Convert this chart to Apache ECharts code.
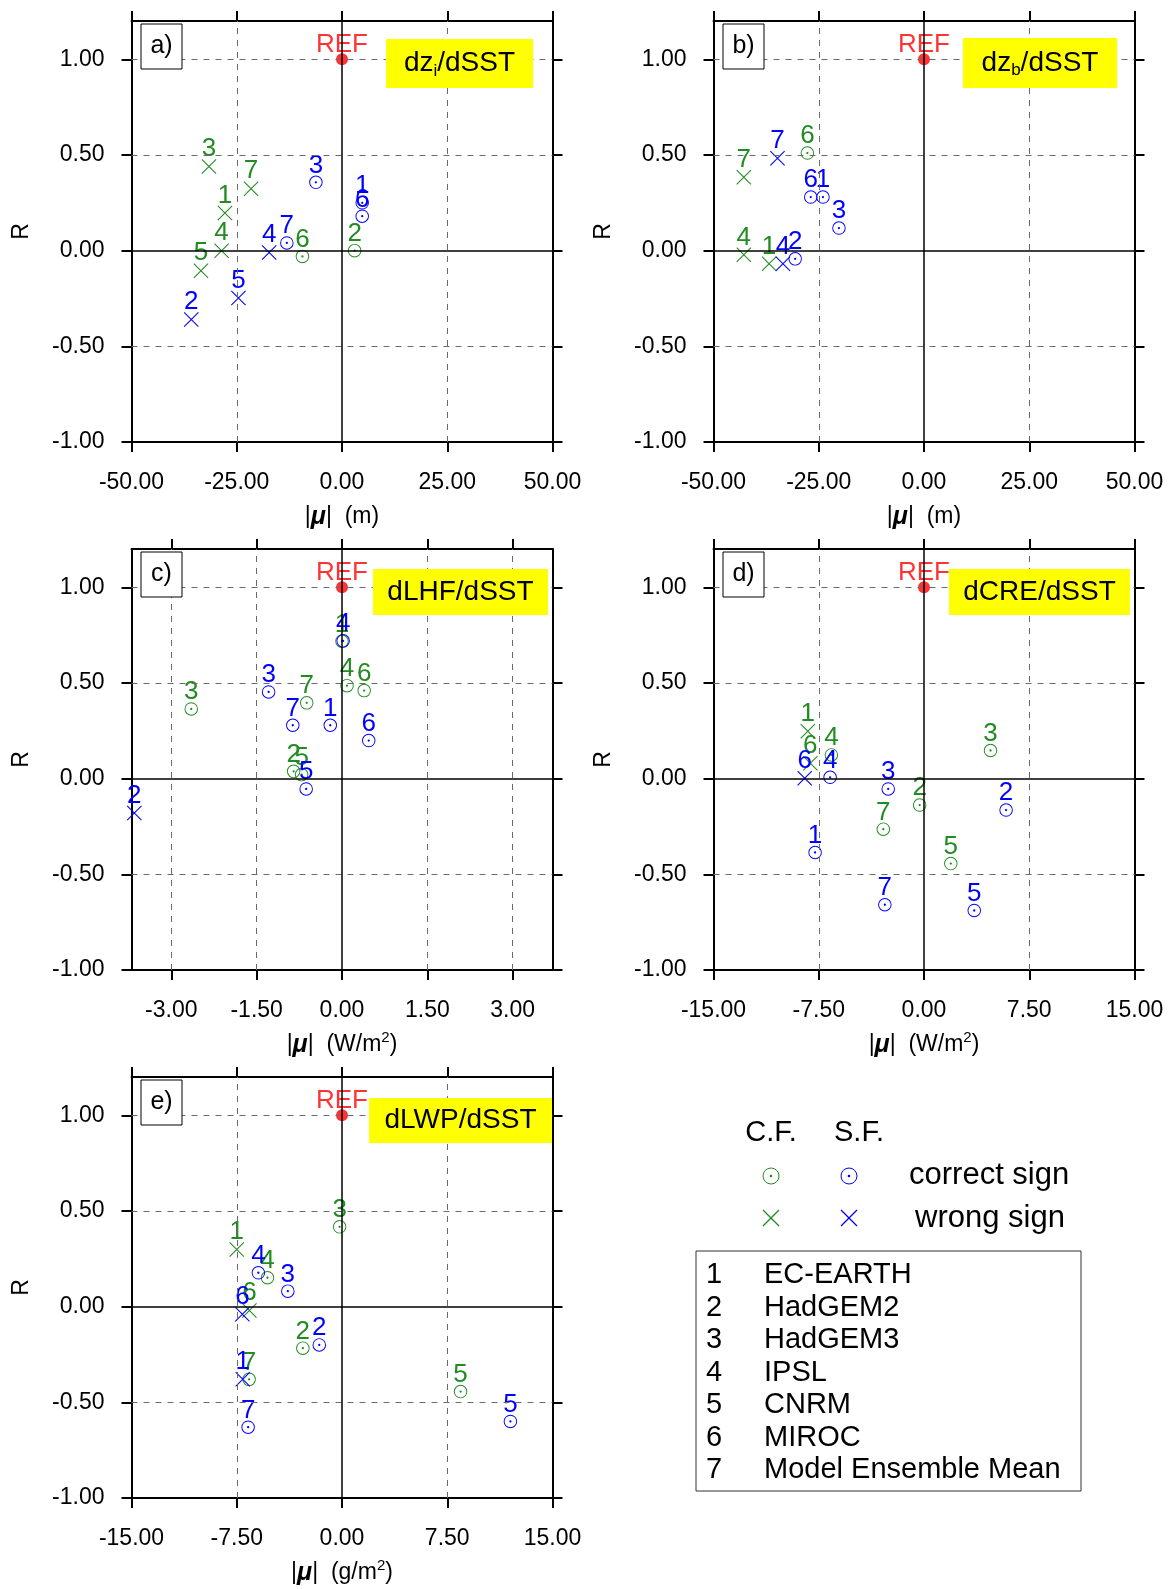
<!DOCTYPE html>
<html><head><meta charset="utf-8">
<script src="https://cdn.jsdelivr.net/npm/echarts@6/dist/echarts.min.js"></script>
<style>html,body{margin:0;padding:0;background:#fff}#c{width:1170px;height:1589px}</style>
</head><body><div id="c"></div>
<script>
// ---------- data ----------
const modelNums = ['1','2','3','4','5','6','7'];
const modelNames = ['EC-EARTH','HadGEM2','HadGEM3','IPSL','CNRM','MIROC','Model Ensemble Mean'];
const yTicks = [-1, -0.5, 0, 0.5, 1];
const yDash = [-0.5, 0.5, 1];
const xTicksAB = [-50, -25, 0, 25, 50];
const xTicksC = [-3, -1.5, 0, 1.5, 3];
const xTicksDE = [-15, -7.5, 0, 7.5, 15];

// panel a) dz_i/dSST   (1 = correct sign, 0 = wrong sign)
const aCfX = [-27.8, 3.0, -31.6, -28.6, -33.5, -9.4, -21.6];
const aCfR = [0.197, 0.0, 0.44, 0.0, -0.105, -0.03, 0.324];
const aCfOk = [0, 1, 0, 0, 0, 1, 0];
const aSfX = [4.8, -35.8, -6.2, -17.3, -24.6, 4.8, -13.1];
const aSfR = [0.25, -0.36, 0.357, -0.01, -0.247, 0.18, 0.04];
const aSfOk = [1, 0, 1, 0, 0, 1, 1];
// panel b) dz_b/dSST
const bCfX = [-36.8, null, null, -42.8, null, -27.7, -42.8];
const bCfR = [-0.069, null, null, -0.022, null, 0.51, 0.384];
const bCfOk = [0, 0, 0, 0, 0, 1, 0];
const bSfX = [-24.0, -30.6, -20.2, -33.5, null, -26.9, -34.8];
const bSfR = [0.28, -0.043, 0.118, -0.069, null, 0.28, 0.483];
const bSfOk = [1, 1, 1, 0, 0, 1, 0];
// panel c) dLHF/dSST
const cCfX = [0.0, -0.85, -2.65, 0.088, -0.71, 0.39, -0.62];
const cCfR = [0.718, 0.038, 0.364, 0.486, 0.021, 0.46, 0.396];
const cCfOk = [1, 1, 1, 1, 1, 1, 1];
const cSfX = [-0.206, -3.65, -1.29, 0.02, -0.63, 0.47, -0.865];
const cSfR = [0.279, -0.18, 0.453, 0.72, -0.054, 0.199, 0.279];
const cSfOk = [1, 0, 1, 1, 1, 1, 1];
// panel d) dCRE/dSST
const dCfX = [-8.28, -0.31, 4.74, -6.6, 1.91, -8.1, -2.9];
const dCfR = [0.247, -0.138, 0.147, 0.124, -0.444, 0.08, -0.264];
const dCfOk = [0, 1, 1, 1, 1, 0, 1];
const dSfX = [-7.76, 5.85, -2.55, -6.69, 3.58, -8.5, -2.79];
const dSfR = [-0.386, -0.164, -0.054, 0.007, -0.689, 0.002, -0.659];
const dSfOk = [1, 1, 1, 1, 1, 0, 1];
// panel e) dLWP/dSST
const eCfX = [-7.5, -2.79, -0.17, -5.31, 8.45, -6.6, -6.62];
const eCfR = [0.299, -0.217, 0.417, 0.151, -0.444, -0.02, -0.38];
const eCfOk = [0, 1, 1, 1, 1, 0, 1];
const eSfX = [-7.07, -1.62, -3.86, -5.96, 12.0, -7.1, -6.69];
const eSfR = [-0.38, -0.2, 0.081, 0.177, -0.6, -0.04, -0.63];
const eSfOk = [0, 1, 1, 1, 1, 0, 1];
const refX = 0, refR = 1;

// ---------- styling / layout ----------
const FONT = '"Liberation Sans", Arial, Helvetica, sans-serif';
const GREEN = '#228B22', BLUE = '#0000FF', RED = '#FF0000';
const RING = 'path://M0,65A65,65 0 1,0 130,65A65,65 0 1,0 0,65Z M9,65A56,56 0 1,1 121,65A56,56 0 1,1 9,65Z M54,65A11,11 0 1,0 76,65A11,11 0 1,0 54,65Z';
const CROSS = 'path://M0,5L5,0L100,95L95,100Z M95,0L100,5L5,100L0,95Z';
const W = 421, H = 421;
const nameM = '|{mu|μ}|  (m)';
const nameW = '|{mu|μ}|  (W/m{sup|2})';
const nameG = '|{mu|μ}|  (g/m{sup|2})';

const panels = [
  {left:131.5, top:21, xMin:-50, xMax:50, ticks:xTicksAB, cf:[aCfX,aCfR,aCfOk], sf:[aSfX,aSfR,aSfOk], xName:nameM, lab:'a)', title:'{m|dz}{s|i}{m|/dSST}', box:[386,39,147,49]},
  {left:713.5, top:21, xMin:-50, xMax:50, ticks:xTicksAB, cf:[bCfX,bCfR,bCfOk], sf:[bSfX,bSfR,bSfOk], xName:nameM, lab:'b)', title:'{m|dz}{s|b}{m|/dSST}', box:[963,38,154,50]},
  {left:131.5, top:549, xMin:-3.7, xMax:3.7, ticks:xTicksC, cf:[cCfX,cCfR,cCfOk], sf:[cSfX,cSfR,cSfOk], xName:nameW, lab:'c)', title:'{m|dLHF/dSST}', box:[373,569,175,46]},
  {left:713.5, top:549, xMin:-15, xMax:15, ticks:xTicksDE, cf:[dCfX,dCfR,dCfOk], sf:[dSfX,dSfR,dSfOk], xName:nameW, lab:'d)', title:'{m|dCRE/dSST}', box:[949,569,181,46]},
  {left:131.5, top:1077, xMin:-15, xMax:15, ticks:xTicksDE, cf:[eCfX,eCfR,eCfOk], sf:[eSfX,eSfR,eSfOk], xName:nameG, lab:'e)', title:'{m|dLWP/dSST}', box:[369,1098,183,45]}
];

const fmt = v => Number(v).toFixed(2);
const grids = [], xAxes = [], yAxes = [], series = [], graphics = [];

function axisCommon(ticks) {
  return {
    axisLine: {show: true, onZero: false, lineStyle: {color: '#000', width: 2}},
    axisTick: {show: true, inside: false, length: 10, customValues: ticks, lineStyle: {color: '#000', width: 2}},
    splitLine: {show: false}
  };
}

function pts(arr, color) {
  const [xs, rs, ok] = arr;
  const out = [];
  for (let k = 0; k < xs.length; k++) {
    if (xs[k] == null || rs[k] == null) continue;
    out.push({name: modelNums[k], value: [xs[k], rs[k]],
      symbol: ok[k] ? RING : CROSS, symbolSize: ok[k] ? 13.5 : 15});
  }
  return {
    type: 'scatter', data: out, z: 3, silent: true,
    itemStyle: {color: color, opacity: 1},
    label: {show: true, position: 'top', distance: -3, formatter: '{b}', color: color,
      fontSize: 26, fontFamily: FONT}
  };
}

panels.forEach((p, i) => {
  grids.push({left: p.left, top: p.top, width: W, height: H, outerBoundsMode: 'none', containLabel: false});
  xAxes.push(Object.assign({
    gridIndex: i, type: 'value', min: p.xMin, max: p.xMax, position: 'bottom',
    axisLabel: {customValues: p.ticks, formatter: fmt, fontSize: 23, color: '#000', margin: 29, fontFamily: FONT},
    name: p.xName, nameLocation: 'middle', nameGap: 60,
    nameTextStyle: {fontSize: 23, color: '#000', fontFamily: FONT, lineHeight: 30,
      rich: {mu: {fontSize: 25, fontWeight: 'bold', fontStyle: 'italic', color: '#000', fontFamily: FONT, lineHeight: 30},
             sup: {fontSize: 15, color: '#000', fontFamily: FONT, lineHeight: 14, verticalAlign: 'top'}}}
  }, axisCommon(p.ticks)));
  xAxes.push(Object.assign({
    gridIndex: i, type: 'value', min: p.xMin, max: p.xMax, position: 'top',
    axisLabel: {show: false}
  }, axisCommon(p.ticks)));
  yAxes.push(Object.assign({
    gridIndex: i, type: 'value', min: -1, max: 1.2, position: 'left',
    axisLabel: {customValues: yTicks, formatter: fmt, fontSize: 23, color: '#000', margin: 27, fontFamily: FONT},
    name: 'R', nameLocation: 'middle', nameGap: 98, nameRotate: 90,
    nameTextStyle: {fontSize: 23, color: '#000', fontFamily: FONT}
  }, axisCommon(yTicks)));
  yAxes.push(Object.assign({
    gridIndex: i, type: 'value', min: -1, max: 1.2, position: 'right',
    axisLabel: {show: false}
  }, axisCommon(yTicks)));

  const xi = 2 * i, yi = 2 * i;
  const dashX = p.ticks.filter(v => v !== 0 && v > p.xMin && v < p.xMax);
  series.push({
    type: 'scatter', xAxisIndex: xi, yAxisIndex: yi, data: [[refX, refR]], symbolSize: 0, silent: true, z: 1,
    markLine: {
      silent: true, symbol: ['none', 'none'], label: {show: false}, animation: false,
      lineStyle: {color: '#6a6a6a', type: [6, 6], width: 1},
      data: [
        ...dashX.map(v => ({xAxis: v})),
        ...yDash.map(v => ({yAxis: v})),
        {xAxis: 0, lineStyle: {type: 'solid', color: '#000', width: 1.5}},
        {yAxis: 0, lineStyle: {type: 'solid', color: '#000', width: 1.5}}
      ]
    }
  });
  series.push(Object.assign(pts(p.cf, GREEN), {xAxisIndex: xi, yAxisIndex: yi}));
  series.push(Object.assign(pts(p.sf, BLUE), {xAxisIndex: xi, yAxisIndex: yi}));
  series.push({
    type: 'scatter', xAxisIndex: xi, yAxisIndex: yi, z: 4, silent: true,
    data: [{name: 'REF', value: [refX, refR]}], symbol: 'circle', symbolSize: 12,
    itemStyle: {color: RED},
    label: {show: true, position: 'top', distance: -5, formatter: '{b}', color: RED, fontSize: 26, fontFamily: FONT}
  });

  // panel letter box
  graphics.push({type: 'rect', shape: {x: p.left + 9.5, y: p.top + 3, width: 41, height: 45},
    style: {fill: '#fff', stroke: '#000', lineWidth: 1}, z: 10});
  graphics.push({type: 'text', x: p.left + 30, y: p.top + 25.5, z: 11,
    style: {text: p.lab, font: '25px ' + FONT, fill: '#000', align: 'center', verticalAlign: 'middle'}});
  // yellow title box
  const b = p.box;
  graphics.push({type: 'rect', shape: {x: b[0], y: b[1], width: b[2], height: b[3]},
    style: {fill: '#FFFF00', stroke: 'none'}, z: 10});
  graphics.push({type: 'text', x: b[0] + b[2] / 2, y: b[1] + b[3] / 2, z: 11,
    style: {text: p.title, align: 'center', verticalAlign: 'middle', fill: '#000',
      rich: {m: {fontSize: 28, fontFamily: FONT, fill: '#000', lineHeight: 32},
             s: {fontSize: 17, fontFamily: FONT, fill: '#000', lineHeight: 21, verticalAlign: 'bottom'}}}});
});

// ---------- legend ----------
const LF = '29px ' + FONT;
graphics.push({type: 'text', x: 771, y: 1133, style: {text: 'C.F.', font: LF, fill: '#000', align: 'center', verticalAlign: 'middle'}});
graphics.push({type: 'text', x: 859, y: 1133, style: {text: 'S.F.', font: LF, fill: '#000', align: 'center', verticalAlign: 'middle'}});
graphics.push({type: 'text', x: 909, y: 1175, style: {text: 'correct sign', font: '31px ' + FONT, fill: '#000', align: 'left', verticalAlign: 'middle'}});
graphics.push({type: 'text', x: 915, y: 1218, style: {text: 'wrong sign', font: '31px ' + FONT, fill: '#000', align: 'left', verticalAlign: 'middle'}});
[[771, GREEN], [849, BLUE]].forEach(([cx, col]) => {
  graphics.push({type: 'circle', shape: {cx: cx, cy: 1176, r: 8}, style: {fill: 'none', stroke: col, lineWidth: 1}});
  graphics.push({type: 'circle', shape: {cx: cx, cy: 1176, r: 1.3}, style: {fill: col}});
  graphics.push({type: 'line', shape: {x1: cx - 8, y1: 1210, x2: cx + 8, y2: 1226}, style: {stroke: col, lineWidth: 1.2}});
  graphics.push({type: 'line', shape: {x1: cx - 8, y1: 1226, x2: cx + 8, y2: 1210}, style: {stroke: col, lineWidth: 1.2}});
});
graphics.push({type: 'rect', shape: {x: 696, y: 1251, width: 385, height: 240}, style: {fill: 'none', stroke: '#333', lineWidth: 1}});
modelNames.forEach((nm, k) => {
  const y = 1275 + k * 32.5;
  graphics.push({type: 'text', x: 706, y: y, style: {text: modelNums[k], font: LF, fill: '#000', align: 'left', verticalAlign: 'middle'}});
  graphics.push({type: 'text', x: 764, y: y, style: {text: nm, font: LF, fill: '#000', align: 'left', verticalAlign: 'middle'}});
});

const chart = echarts.init(document.getElementById('c'), null, {renderer: 'canvas'});
chart.setOption({
  backgroundColor: '#fff',
  animation: false,
  grid: grids, xAxis: xAxes, yAxis: yAxes, series: series, graphic: graphics
});
</script>
</body></html>
